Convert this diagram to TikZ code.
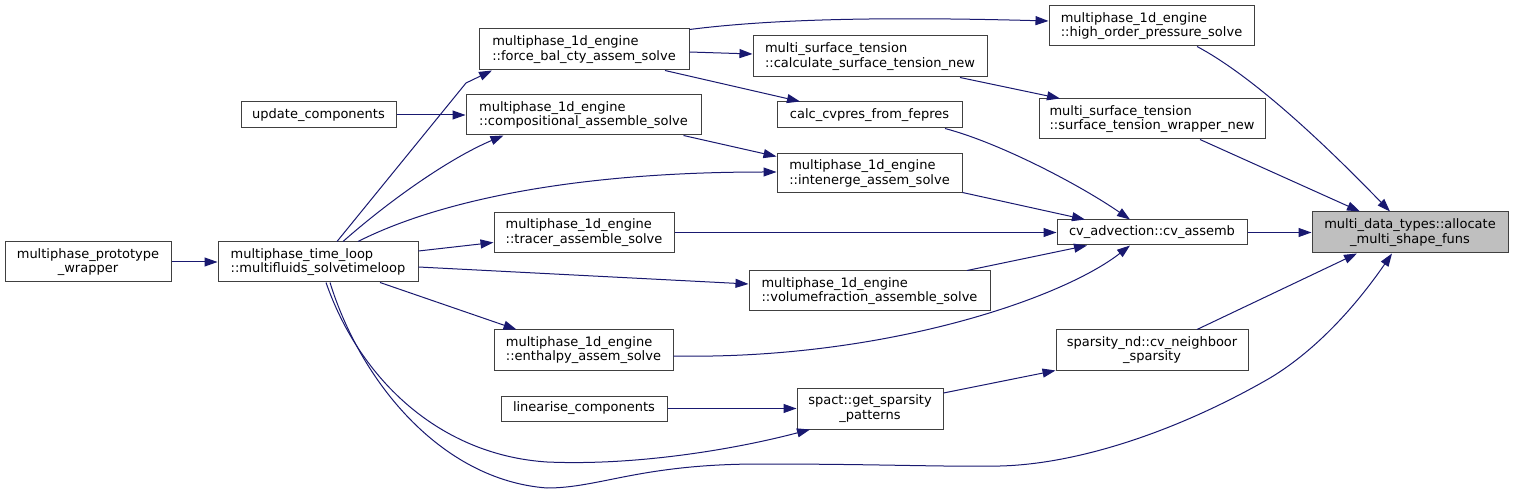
\documentclass[tikz,border=0pt]{standalone}
\usepackage{fontspec}
\setmainfont{DejaVu Sans}
\usetikzlibrary{arrows.meta}
\definecolor{edgec}{HTML}{191970}
\definecolor{boxc}{HTML}{404040}
\definecolor{grayf}{HTML}{BFBFBF}
\begin{document}
\begin{tikzpicture}[x=1pt,y=-1pt,
  nd/.style={draw=boxc, line width=1pt, fill=white, inner sep=0pt, align=left,
             font=\fontsize{13}{14.5}\selectfont},
  ndc/.style={nd, align=center},
  e/.style={draw=edgec, line width=1pt, -{Triangle[length=13pt,width=9pt]}}]
\fill[white] (0,0) rectangle (1513,494);
\useasboundingbox (0,0) rectangle (1513,494);

% nodes
\node[ndc, fill=grayf, minimum width=196pt, minimum height=41pt] (alloc) at (1410,232.5) {multi\_data\_types::allocate\\\_multi\_shape\_funs};
\node[nd, minimum width=205pt, minimum height=40pt] (ho) at (1151.5,26) {multiphase\_1d\_engine\\::high\_order\_pressure\_solve};
\node[nd, minimum width=226pt, minimum height=40pt] (stw) at (1152,119) {multi\_surface\_tension\\::surface\_tension\_wrapper\_new};
\node[ndc, minimum width=190pt, minimum height=25pt] (cv) at (1152,232.5) {cv\_advection::cv\_assemb};
\node[ndc, minimum width=192pt, minimum height=40pt] (snd) at (1152,350) {sparsity\_nd::cv\_neighboor\\\_sparsity};
\node[nd, minimum width=210pt, minimum height=41pt] (fb) at (584,49.5) {multiphase\_1d\_engine\\::force\_bal\_cty\_assem\_solve};
\node[nd, minimum width=234pt, minimum height=41pt] (cst) at (870,56.5) {multi\_surface\_tension\\::calculate\_surface\_tension\_new};
\node[ndc, minimum width=185pt, minimum height=26pt] (cvp) at (869.5,115) {calc\_cvpres\_from\_fepres};
\node[nd, minimum width=185pt, minimum height=39pt] (ie) at (869.5,173.5) {multiphase\_1d\_engine\\::intenerge\_assem\_solve};
\node[nd, minimum width=235pt, minimum height=40pt] (comp) at (583.5,115) {multiphase\_1d\_engine\\::compositional\_assemble\_solve};
\node[nd, minimum width=180pt, minimum height=40pt] (tr) at (584,232.5) {multiphase\_1d\_engine\\::tracer\_assemble\_solve};
\node[nd, minimum width=241pt, minimum height=40pt] (vf) at (869.5,291) {multiphase\_1d\_engine\\::volumefraction\_assemble\_solve};
\node[nd, minimum width=179pt, minimum height=40pt] (en) at (583.5,350) {multiphase\_1d\_engine\\::enthalpy\_assem\_solve};
\node[ndc, minimum width=166pt, minimum height=25pt] (lin) at (584,408.5) {linearise\_components};
\node[ndc, minimum width=146pt, minimum height=41pt] (sp) at (870,408.5) {spact::get\_sparsity\\\_patterns};
\node[ndc, minimum width=155pt, minimum height=26pt] (uc) at (318.5,115) {update\_components};
\node[nd, minimum width=200pt, minimum height=40pt] (mf) at (318,262) {multiphase\_time\_loop\\::multifluids\_solvetimeloop};
\node[ndc, minimum width=166pt, minimum height=40pt] (pw) at (88,262) {multiphase\_prototype\\\_wrapper};

% edges
\draw[e] (cv) -- (alloc);
\draw[e] ([xshift=45.5pt]ho.south) .. controls (1260,80) and (1340,160) .. ([xshift=-20pt]alloc.north);
\draw[e] ([xshift=48pt]stw.south) -- ([xshift=-50pt]alloc.north);
\draw[e] ([xshift=45pt]snd.north) -- ([xshift=-53pt]alloc.south);
\draw[e] ([xshift=12pt]mf.south) .. controls (360,380) and (440,480) .. (547,488)
   .. controls (600,488) and (640,464) .. (760,464)
   .. controls (880,464) and (940,467) .. (1000,466)
   .. controls (1080,464) and (1180,430) .. (1270,378)
   .. controls (1320,348) and (1360,300) .. ([xshift=-18pt]alloc.south);
\draw[e] ([xshift=8pt]mf.south) .. controls (360,380) and (440,455) .. (547,462)
   .. controls (640,466) and (740,448) .. ([xshift=-60pt]sp.south);
\draw[e] ([xshift=19pt]mf.north) -- (466,83) -- ([xshift=-92pt]fb.south);
\draw[e] ([xshift=25pt]mf.north) .. controls (390,200) and (450,158) .. ([xshift=-80pt]comp.south);
\draw[e] ([xshift=40pt]mf.north) .. controls (430,205) and (560,172) .. ([yshift=1.5pt]ie.west);
\draw[e] ([yshift=11pt]mf.east) -- ([yshift=-10pt]tr.west);
\draw[e] ([yshift=-5pt]mf.east) -- ([yshift=7pt]vf.west);
\draw[e] ([xshift=62pt]mf.south) -- ([xshift=-67pt]en.north);
\draw[e] (pw) -- (mf);
\draw[e] (uc) -- (comp);
\draw[e] ([yshift=-1pt]fb.north east) .. controls (780,18) and (900,17) .. ([yshift=5pt]ho.west);
\draw[e] ([yshift=-2.5pt]fb.east) -- ([yshift=2.5pt]cst.west);
\draw[e] ([xshift=81pt]fb.south) -- ([xshift=-69.5pt]cvp.north);
\draw[e] ([xshift=100pt]comp.south) -- ([yshift=17pt]ie.west);
\draw[e] ([xshift=90pt]cst.south) -- ([xshift=-92pt]stw.north);
\draw[e] ([xshift=75.5pt]cvp.south) .. controls (1000,143) and (1080,185) .. ([xshift=-22pt]cv.north);
\draw[e] ([yshift=-19pt]ie.east) -- ([xshift=-67pt]cv.north);
\draw[e] (tr) -- (cv);
\draw[e] ([xshift=97.5pt]vf.north) -- ([xshift=-65pt]cv.south);
\draw[e] ([yshift=-6pt]en.east) .. controls (880,360) and (1060,300) .. ([xshift=-22pt]cv.south);
\draw[e] ([yshift=15.5pt]sp.east) -- (snd.south west);
\draw[e] (lin) -- (sp);
\end{tikzpicture}
\end{document}
